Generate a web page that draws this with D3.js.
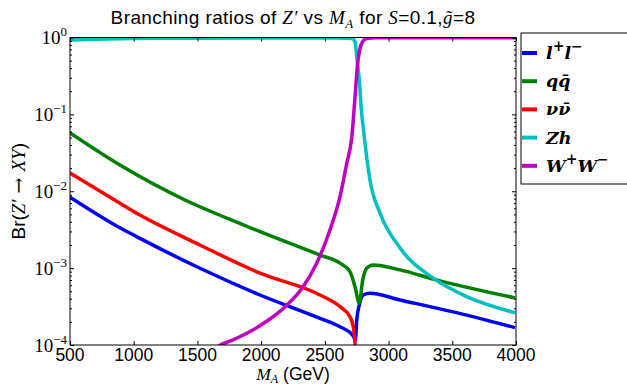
<!DOCTYPE html>
<html>
<head>
<meta charset="utf-8">
<script src="https://cdnjs.cloudflare.com/ajax/libs/d3/7.8.5/d3.min.js"></script>
<style>
  body { margin: 0; background: #fff; }
  .sans { font-family: "Liberation Sans", Arial, sans-serif; }
  .math { font-family: "Liberation Serif", "DejaVu Serif", serif; font-style: italic; }
</style>
</head>
<body>
<div class="chart"></div>
<script>
// masses (GeV) and branching ratios, one pair of arrays per channel
const llMass = [500, 892, 1049, 1520, 1991, 2462, 2619, 2723, 2740, 2750, 2770, 2802, 2854, 3090, 3613, 3992]
const llBr = [8.4e-3, 3.35e-3, 2.44e-3, 9.95e-4, 4.47e-4, 2.22e-4, 1.73e-4, 1.31e-4, 1.15e-4, 2.1e-4, 3.3e-4, 4.47e-4, 4.7e-4, 3.85e-4, 2.45e-4, 1.68e-4]

const qqMass = [500, 892, 1402, 1756, 1991, 2462, 2619, 2697, 2737, 2770, 2797, 2828, 2880, 3090, 3351, 3992]
const qqBr = [0.0573, 0.0219, 7.7e-3, 4.3e-3, 2.98e-3, 1.48e-3, 1.16e-3, 9.0e-4, 5.7e-4, 3.5e-4, 7.0e-4, 9.95e-4, 1.1e-3, 9.5e-4, 7.2e-4, 4.1e-4]

const nnMass = [500, 892, 1049, 1520, 1991, 2462, 2619, 2697, 2723, 2737, 2742]
const nnBr = [0.0173, 7.0e-3, 4.9e-3, 2.0e-3, 8.6e-4, 4.47e-4, 3.15e-4, 2.33e-4, 1.73e-4, 1.0e-4, 4e-5]

const zhMass = [500, 700, 1000, 1500, 2000, 2600, 2711, 2737, 2750, 2770, 2789, 2802, 2815, 2854, 2933, 3090, 3351, 3613, 3992]
const zhBr = [0.93, 0.95, 0.97, 0.98, 0.985, 0.985, 0.97, 0.88, 0.56, 0.28, 0.103, 0.065, 0.042, 0.014, 5.2e-3, 1.83e-3, 7.4e-4, 4.25e-4, 2.63e-4]

const wwMass = [1620, 1680, 1770, 2017, 2201, 2318, 2436, 2540, 2619, 2672, 2711, 2737, 2755, 2770, 2789, 2828, 2900, 3500, 4000]
const wwBr = [8.5e-5, 1e-4, 1.15e-4, 1.9e-4, 3.3e-4, 5.4e-4, 1.16e-3, 3.13e-3, 8.5e-3, 0.0231, 0.05, 0.17, 0.42, 0.65, 0.84, 0.97, 0.99, 0.995, 0.995]

const xTicks = [500, 1000, 1500, 2000, 2500, 3000, 3500, 4000]
const yTicks = [1e-4, 1e-3, 1e-2, 1e-1, 1]
const yTickExp = ["\u22124", "\u22123", "\u22122", "\u22121", "0"]

const width = 627
const height = 384
const plot = {left: 70, right: 516, top: 37.5, bottom: 345}

const svg = d3.select(".chart").append("svg")
    .attr("width", width)
    .attr("height", height)

svg.append("rect").attr("width", width).attr("height", height).attr("fill", "#fff")

const x = d3.scaleLinear()
    .domain([500, 4000])
    .range([plot.left, plot.right])

const y = d3.scaleLog()
    .domain([1e-4, 1])
    .range([plot.bottom, plot.top])

svg.append("clipPath").attr("id", "clip")
  .append("rect")
    .attr("x", plot.left)
    .attr("y", plot.top)
    .attr("width", plot.right - plot.left)
    .attr("height", plot.bottom - plot.top)

const series = [
    {mass: llMass, br: llBr, color: "#0000ff"},
    {mass: qqMass, br: qqBr, color: "#008000"},
    {mass: nnMass, br: nnBr, color: "#ff0000"},
    {mass: zhMass, br: zhBr, color: "#00bfbf"},
    {mass: wwMass, br: wwBr, color: "#bf00bf"}
]

const line = d3.line()
    .curve(d3.curveMonotoneX)
    .x(d => x(d[0]))
    .y(d => y(d[1]))

svg.append("g")
    .attr("clip-path", "url(#clip)")
  .selectAll("path")
  .data(series)
  .join("path")
    .attr("fill", "none")
    .attr("stroke", d => d.color)
    .attr("stroke-width", 3.5)
    .attr("stroke-linejoin", "round")
    .attr("d", d => line(d3.zip(d.mass, d.br)))

// ticks pointing inward on all four sides
const minor = []
for (let e = -4; e < 0; e++) for (let k = 2; k <= 9; k++) minor.push(k * Math.pow(10, e))

function clean(g) {
    g.select(".domain").remove()
    g.selectAll("text").remove()
    g.selectAll("line").attr("stroke", "#000")
}

svg.append("g").attr("transform", `translate(0,${plot.bottom})`)
    .call(d3.axisBottom(x).tickValues(xTicks).tickSize(-4)).call(clean)
svg.append("g").attr("transform", `translate(0,${plot.top})`)
    .call(d3.axisTop(x).tickValues(xTicks).tickSize(-4)).call(clean)
svg.append("g").attr("transform", `translate(${plot.left},0)`)
    .call(d3.axisLeft(y).tickValues(yTicks).tickSize(-4)).call(clean)
svg.append("g").attr("transform", `translate(${plot.left},0)`)
    .call(d3.axisLeft(y).tickValues(minor).tickSize(-2)).call(clean)
svg.append("g").attr("transform", `translate(${plot.right},0)`)
    .call(d3.axisRight(y).tickValues(yTicks).tickSize(-4)).call(clean)
svg.append("g").attr("transform", `translate(${plot.right},0)`)
    .call(d3.axisRight(y).tickValues(minor).tickSize(-2)).call(clean)

svg.append("rect")
    .attr("x", plot.left)
    .attr("y", plot.top)
    .attr("width", plot.right - plot.left)
    .attr("height", plot.bottom - plot.top)
    .attr("fill", "none")
    .attr("stroke", "#000")
    .attr("stroke-width", 1)

// tick labels
svg.append("g")
  .selectAll("text")
  .data(xTicks)
  .join("text")
    .attr("class", "sans")
    .attr("x", d => x(d))
    .attr("y", plot.bottom + 16)
    .attr("text-anchor", "middle")
    .attr("font-size", 17.5)
    .text(d => d)

const yLab = svg.append("g")
  .selectAll("text")
  .data(yTicks)
  .join("text")
    .attr("x", plot.left - 3)
    .attr("y", d => y(d) + 6.5)
    .attr("text-anchor", "end")
    .style("font-family", '"Liberation Serif", serif')
    .attr("font-size", 19)
yLab.append("tspan").text("10")
yLab.append("tspan")
    .attr("dy", -8)
    .attr("font-size", 13)
    .text((d, i) => yTickExp[i])

// title
const title = svg.append("text")
    .attr("class", "sans")
    .attr("x", (plot.left + plot.right) / 2)
    .attr("y", 24)
    .attr("text-anchor", "middle")
    .attr("font-size", 19)
    .style("letter-spacing", "0.4px")
title.append("tspan").text("Branching ratios of ")
title.append("tspan").attr("class", "math").text("Z\u2032")
title.append("tspan").text(" vs ")
title.append("tspan").attr("class", "math").text("M")
title.append("tspan").attr("class", "math").attr("font-size", 13).attr("dy", 4).text("A")
title.append("tspan").attr("dy", -4).text(" for ")
title.append("tspan").attr("class", "math").text("S")
title.append("tspan").text("=0.1,")
title.append("tspan").attr("class", "math").text("g\u0303")
title.append("tspan").text("=8")

// axis labels
const xLabel = svg.append("text")
    .attr("class", "sans")
    .attr("x", (plot.left + plot.right) / 2)
    .attr("y", 380)
    .attr("text-anchor", "middle")
    .attr("font-size", 17.5)
xLabel.append("tspan").attr("class", "math").text("M")
xLabel.append("tspan").attr("class", "math").attr("font-size", 12).attr("dy", 2.5).text("A")
xLabel.append("tspan").attr("dy", -2.5).text(" (GeV)")

const yLabel = svg.append("text")
    .attr("class", "sans")
    .attr("transform", `translate(25,${(plot.top + plot.bottom) / 2}) rotate(-90)`)
    .attr("text-anchor", "middle")
    .attr("font-size", 19)
yLabel.append("tspan").text("Br(")
yLabel.append("tspan").attr("class", "math").text("Z\u2032")
yLabel.append("tspan").style("font-family", '"DejaVu Serif", serif').text(" \u2192 ")
yLabel.append("tspan").attr("class", "math").text("XY")
yLabel.append("tspan").text(")")

// legend
const legendNames = [
    [["l", ""], ["+", "sup"], ["l", ""], ["\u2212", "sup"]],
    [["q", ""], ["q\u0304", ""]],
    [["\u03bd", ""], ["\u03bd\u0304", ""]],
    [["Zh", ""]],
    [["W", ""], ["+", "sup"], ["W", ""], ["\u2212", "sup"]]
]

const legend = svg.append("g")
legend.append("rect")
    .attr("x", 521)
    .attr("y", 33)
    .attr("width", 130)
    .attr("height", 151)
    .attr("fill", "#fff")
    .attr("stroke", "#000")

const entries = legend.selectAll(".entry")
    .data(series)
    .join("g")
    .attr("class", "entry")
    .attr("transform", (d, i) => `translate(0,${53 + i * 28.2})`)

entries.append("line")
    .attr("x1", 522)
    .attr("x2", 537)
    .attr("stroke", d => d.color)
    .attr("stroke-width", 4)

entries.append("text")
    .attr("x", 546)
    .attr("y", 6)
    .style("font-family", '"DejaVu Serif", serif')
    .style("font-style", "italic")
    .style("font-weight", "bold")
    .attr("font-size", 17.5)
    .each(function(d, i) {
        const t = d3.select(this)
        let up = false
        legendNames[i].forEach(([s, kind]) => {
            const sp = t.append("tspan").text(s)
            if (kind === "sup" && !up) { sp.attr("dy", -8).attr("font-size", 14); up = true }
            else if (kind === "sup") { sp.attr("font-size", 14) }
            else if (up) { sp.attr("dy", 8); up = false }
        })
    })
</script>
</body>
</html>
